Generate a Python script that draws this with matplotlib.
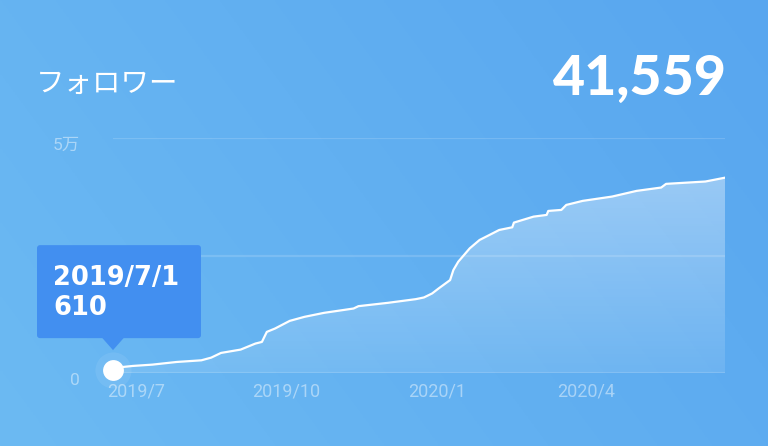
import numpy as np
import pandas as pd
import matplotlib
matplotlib.use('Agg')
import matplotlib.pyplot as plt
from matplotlib.patches import FancyBboxPatch, Polygon
from matplotlib.transforms import ScaledTranslation
import matplotlib.dates as mdates

# follower counts (cumulative)
dates = ['2019-07-01', '2019-07-07', '2019-07-13', '2019-07-25', '2019-08-09',
         '2019-08-24', '2019-08-30', '2019-09-05', '2019-09-17', '2019-09-26',
         '2019-09-30', '2019-10-03', '2019-10-08', '2019-10-17', '2019-10-26',
         '2019-11-07', '2019-11-25', '2019-11-28', '2019-12-16', '2020-01-02',
         '2020-01-07', '2020-01-12', '2020-01-16', '2020-01-23', '2020-01-25',
         '2020-01-28', '2020-02-04', '2020-02-10', '2020-02-16', '2020-02-22',
         '2020-03-01', '2020-03-02', '2020-03-14', '2020-03-22', '2020-03-23',
         '2020-03-31', '2020-04-03', '2020-04-13', '2020-05-01', '2020-05-16',
         '2020-05-31', '2020-06-03', '2020-06-27', '2020-07-09']
followers = [610, 1280, 1500, 1780, 2350,
             2700, 3270, 4270, 4980, 6260,
             6610, 8750, 9460, 11090, 11950,
             12800, 13720, 14220, 14930, 15710,
             16070, 16920, 17990, 19770, 21900,
             23680, 26520, 28300, 29360, 30430,
             31000, 32000, 33270, 33630, 34480,
             34700, 35760, 36620, 37540, 38750,
             39460, 40240, 40740, 41559]

tick_dates = ['2019-07-15', '2019-10-15', '2020-01-15', '2020-04-15']
tick_labels = ['2019/7', '2019/10', '2020/1', '2020/4']
y_ticks = [0, 25000, 50000]
y_labels = ['0', '2.5万', '5万']
title = 'フォロワー'

plt.rcParams['font.family'] = ['Roboto', 'Noto Sans CJK JP', 'DejaVu Sans']

W, H = 768, 446
fig = plt.figure(figsize=(W / 100, H / 100), dpi=100)

# background gradient
bg = fig.add_axes([0, 0, 1, 1], zorder=0)
bg.axis('off')
gx, gy = np.meshgrid(np.linspace(0, 1, 256), np.linspace(0, 1, 160))
t = 0.7 * gx + 0.3 * gy
c0 = np.array([108, 186, 243]) / 255
c1 = np.array([88, 166, 239]) / 255
bg.imshow(c0 + (c1 - c0) * t[..., None], extent=[0, 1, 0, 1], origin='lower', aspect='auto')

x = pd.to_datetime(dates)
ax = fig.add_axes([113 / W, 1 - 373 / H, 612 / W, 235 / H], zorder=1)
ax.patch.set_alpha(0)
for s in ax.spines.values():
    s.set_visible(False)

# gradient fill under the line
poly = ax.fill_between(x, followers, 0, color='none', lw=0)
alpha = np.linspace(0.10, 0.38, 100).reshape(-1, 1)
rgba = np.ones((100, 1, 4))
rgba[..., 3] = alpha
xn = mdates.date2num(x)
im = ax.imshow(rgba, extent=[xn[0], xn[-1], 0, max(followers)], origin='lower',
               aspect='auto', zorder=2)
im.set_clip_path(poly.get_paths()[0], transform=ax.transData)

ax.plot(x, followers, color='white', lw=1.6, zorder=4)

ax.set_xlim(x[0], x[-1])
ax.set_ylim(0, 50000)
ax.set_yticks(y_ticks, y_labels)
ax.set_xticks(pd.to_datetime(tick_dates), tick_labels)
ax.grid(axis='y', color='white', alpha=0.15, lw=1.6)
ax.grid(axis='x', visible=False)
ax.tick_params(axis='y', length=0, pad=24, labelsize=12.5, labelcolor=(1, 1, 1, 0.45))
ax.tick_params(axis='x', length=0, pad=7, labelsize=13, labelcolor=(1, 1, 1, 0.45))
for lab in ax.get_yticklabels():
    lab.set_transform(lab.get_transform() + ScaledTranslation(0, -0.06, fig.dpi_scale_trans))

# highlighted first point
ax.plot(x[0], followers[0], 'o', ms=26, color='white', alpha=0.08, mew=0, clip_on=False, zorder=5)
ax.plot(x[0], followers[0], 'o', ms=15, color='white', mew=0, clip_on=False, zorder=6)

# overlay in pixel coordinates for texts / tooltip
ov = fig.add_axes([0, 0, 1, 1], zorder=3)
ov.set_xlim(0, W)
ov.set_ylim(H, 0)
ov.axis('off')

ov.text(36, 84, title, color='white', fontsize=20.5, va='center', ha='left',
        family=['Noto Sans CJK JP', 'DejaVu Sans'])
ov.text(727, 95, f'{followers[-1]:,}', color='white', fontsize=40, fontweight='black',
        va='baseline', ha='right', family=['Lato', 'DejaVu Sans'])

# tooltip anchored above the first point
fig.canvas.draw()
px, py = ax.transData.transform((xn[0], followers[0]))
py = H - py
tip_y = py - 20
box_w, box_h = 164, 93
bx = px - 76
by = tip_y - 12 - box_h
tip_color = '#428ff0'
ov.add_patch(FancyBboxPatch((bx, by), box_w, box_h, boxstyle='round,pad=0,rounding_size=3',
                            fc=tip_color, ec='none', zorder=5))
ov.add_patch(Polygon([[px - 11, tip_y - 12.5], [px + 11, tip_y - 12.5], [px, tip_y]],
                     closed=True, fc=tip_color, ec='none', zorder=5))
ov.text(bx + 16, by + 33, f'{x[0].year}/{x[0].month}/{x[0].day}', color='white',
        fontsize=18.5, fontweight='semibold', va='center', ha='left',
        family=['DejaVu Sans'], zorder=6)
ov.text(bx + 16, by + 63, f'{followers[0]}', color='white', fontsize=18.5,
        fontweight='semibold', va='center', ha='left',
        family=['DejaVu Sans'], zorder=6)

fig.savefig('out.png', dpi=100)
